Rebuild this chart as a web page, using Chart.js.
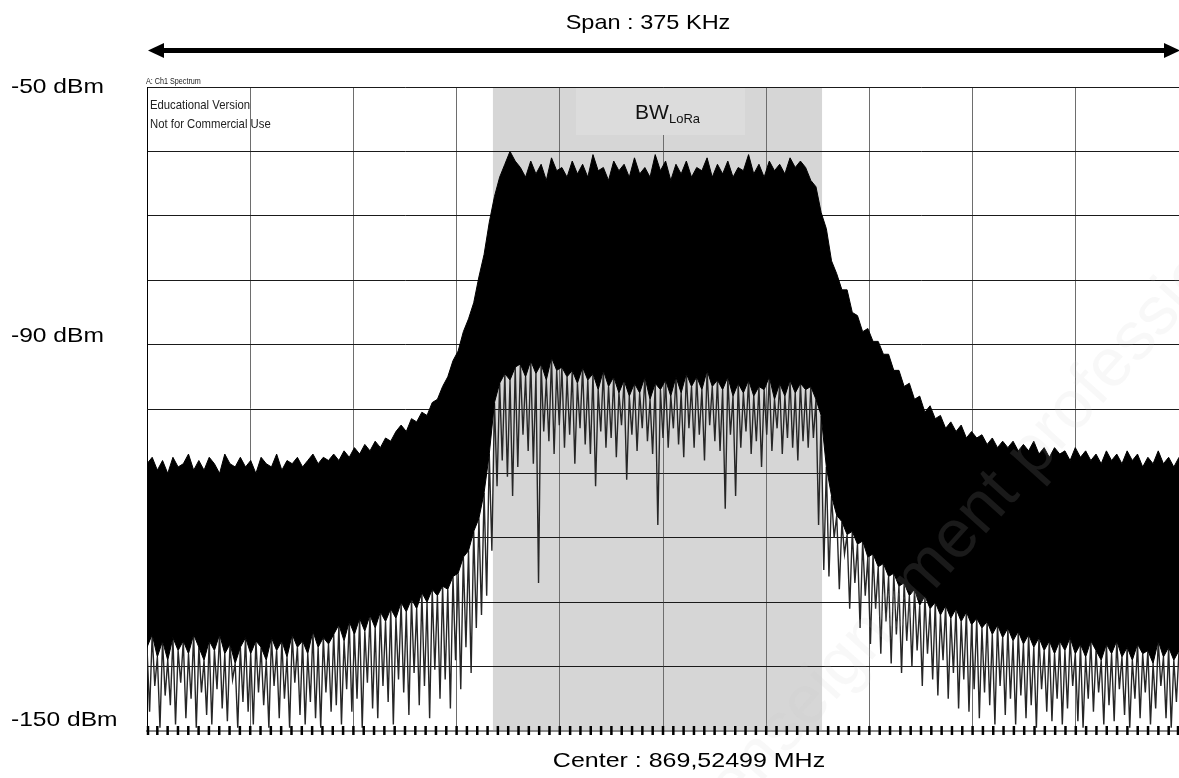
<!DOCTYPE html>
<html><head><meta charset="utf-8">
<script src="https://cdn.jsdelivr.net/npm/chart.js@4.4.1/dist/chart.umd.min.js"></script>
<style>html,body{margin:0;padding:0;background:#fff;overflow:hidden}canvas{display:block}</style>
</head><body>
<canvas id="c" width="1179" height="778"></canvas>
<script>
// ---- data (dBm, 200 bins across the span) ----
const peakDbm = [
 -108.5,-107.5,-109.5,-108,-110,-107.5,-109,-108.5,-107,-109.5,
 -108,-109.5,-107.5,-108.5,-110,-107,-108.5,-109,-107.5,-109,
 -108,-110,-107.5,-108.5,-109,-107,-109.5,-108,-108.5,-107.5,
 -109,-108,-107,-108.5,-107.5,-108,
 -107,-108,-106.5,-107.5,-106,-107,-105.5,-106.5,-105,-106,-104.5,-105,-103.5,
 -102.5,-103.5,-101.5,-102,-100.5,-101,-99,-98.5,
 -96.5,-95,-92.5,-91,-88,-86,-83.5,-79.5,-76,-71,
 -67,-64,-62,-60,-61.5,
 -62.5,-64,-61.5,-63.5,-62,-64.5,-61,-63,-62.5,-64,
 -61.5,-63.5,-62,-64,-60.5,-63,-62.5,-64.5,-61.5,-63,
 -62,-64,-61,-63.5,-62.5,-64,-60.5,-63,-61.5,-64.5,
 -62,-63.5,-61.5,-64,-62.5,-63,-61,-64,-62,-63.5,
 -61.5,-64,-62.5,-63,-60.5,-63.5,-62,-64,-61.5,-63,
 -62,-63.5,-61,-62.5,-61.5,
 -62.5,-64.5,-65.5,-69.5,-72,-77,-79,-81.5,-81.5,-85,
 -85.5,-88,-87.5,-89.5,-89.5,-91.5,-91.5,-94,-94,-96.5,
 -96,-98.5,-98,-100.5,-99.5,-101.5,-101,-103,-102,-103.5,
 -102.5,-104.5,-103.5,-104.5,-104,-105.5,-104.5,-106,-105,-106,
 -105,-106.5,-105.5,-106.5,-105,-107,-106,-107.5,-106,-107,
 -106.5,-108,-106,-107.5,-106.5,-108,-107,-108.5,-106.5,-108,
 -107,-108.5,-106.5,-108,-107,-109,-107.5,-108.5,-106.5,-108.5,-107.5,-109,-107.5
];
const floorDbm = [
 -137,-135,-138.5,-136,-139,-135.5,-137.5,-136,-138,-135,
 -137,-139,-136,-137.5,-135,-138,-136.5,-139.5,-137,-135.5,
 -138,-136,-137,-139,-135.5,-137.5,-136,-138.5,-135,-137,
 -136,-138,-134.5,-137,-135.5,-136.5,
 -135,-133.5,-136,-133,-135,-132.5,-134.5,-132,-134,-131.5,-133,-131,-132.5,
 -130,-131.5,-129.5,-131,-128.5,-130,-128,-129,
 -127.5,-128,-126,-125.5,-123,-122,-119,-117,-113,-107,
 -99,-96,-94.5,-95.5,-93.5,
 -93,-95,-92.5,-94.5,-93,-95.5,-92,-94,-93.5,-95,
 -94,-96,-93.5,-95.5,-94.5,-97,-94,-96.5,-95,-97.5,
 -95.5,-98,-96,-97.5,-95,-98.5,-96,-97,-95.5,-98,
 -95,-97.5,-94.5,-96.5,-95,-97,-94,-96.5,-95.5,-97,
 -95,-98,-96,-97.5,-95.5,-98,-96.5,-97,-95,-98.5,
 -96,-98,-95.5,-97.5,-96,
 -97,-96.5,-98.5,-101,-109,-113.5,-116.5,-117.5,-119.5,-119,
 -121,-120.5,-123,-122.5,-124.5,-124,-126,-125.5,-127.5,-127,
 -129,-128,-130.5,-129,-131,-130,-132,-130.5,-132.5,-131,
 -133,-131.5,-133.5,-132.5,-134,-133,-135,-133.5,-135.5,-134,
 -136,-134.5,-136.5,-135,-137,-135.5,-137.5,-136,-138,-136,
 -137.5,-135.5,-138,-136.5,-138.5,-136,-137.5,-139,-136.5,-138,
 -136,-138.5,-137,-139,-136.5,-138,-137.5,-139.5,-136,-138.5,-137,-139,-137.5
];
const minDbm = [
 -147,-143,-149.5,-144.5,-146,-149,-142.5,-148,-145,-149.5,
 -144,-147.5,-149,-143.5,-146.5,-148.5,-142,-149.5,-145.5,-147,
 -149,-144,-146,-149.5,-143,-148,-145,-149.5,-142.5,-147.5,
 -149,-145.5,-148,-149.5,-144,-147,
 -146,-149,-143.5,-147,-145,-149.5,-142.5,-146.5,-148,-143,-145.5,-149,-142,
 -144,-147.5,-141,-146,-143,-148,-140.5,-145,
 -142,-146.5,-139,-143.5,-137,-141,-134,-132,-129,-122,
 -112,-108,-110.5,-113.5,-109,
 -104,-106.5,-108.5,-127,-103.5,-105,-107,-102.5,-106,-104,
 -108.5,-103,-105.5,-107,-112,-103.5,-106,-104.5,-107.5,-102.5,
 -111,-104,-106.5,-103,-105,-107,-118,-104.5,-106,-103,
 -105.5,-107.5,-103,-106,-104,-108,-102.5,-105,-106.5,-115.5,
 -104,-113.5,-106,-103.5,-107,-105,-109,-104,-106.5,-103,
 -107,-104.5,-106,-108,-105,
 -106,-104.5,-118,-125,-126,-120,-128,-122.5,-131,-127,
 -134,-129,-136.5,-131,-138,-133,-139.5,-135,-141,-136,
 -140,-137.5,-143,-138,-142,-144.5,-139,-145,-141,-146.5,
 -142,-147,-143.5,-148,-144,-146,-149,-143,-147.5,-145,
 -149,-144.5,-148,-146,-149.5,-143.5,-147,-148.5,-145,-149,
 -146.5,-143,-148.5,-149.5,-145,-147,-144,-149,-146,-148.5,
 -143.5,-147.5,-149.5,-145,-148,-144,-149,-146.5,-143,-148,-149.5,-145.5,-147
];
const yLabelValues = [-50, -90, -150];
const yLabelTexts = ['-50 dBm', '-90 dBm', '-150 dBm'];
const spanText = 'Span : 375 KHz';
const centerText = 'Center : 869,52499 MHz';
const watermarkText = 'enseignement professionnel';
const SPAN_KHZ = 375;
const DIV_KHZ = 37.5;
const MINOR_KHZ = 3.75;
const BW_START_KHZ = -61.8, BW_END_KHZ = 57.8;
const BW_BOX_KHZ = [-31.6, 29.8];

// frequency offset (kHz from centre) of each bin
const binKHz = SPAN_KHZ / (peakDbm.length - 1);
const freqKHz = peakDbm.map((_, i) => -SPAN_KHZ / 2 + i * binKHz);

const FONT = '"Liberation Sans", Arial, sans-serif';
function txt(ctx, s, x, y, size, sx, align, color, base) {
  ctx.save();
  ctx.font = size + 'px ' + FONT;
  ctx.fillStyle = color || '#000';
  ctx.textBaseline = base || 'middle';
  ctx.textAlign = align || 'left';
  ctx.translate(x, y);
  ctx.scale(sx, 1);
  ctx.fillText(s, 0, 0);
  ctx.restore();
}

const decor = {
  id: 'decor',
  beforeDraw(chart) {
    const { ctx, chartArea: a, scales: { x } } = chart;
    ctx.save();
    ctx.fillStyle = '#fff';
    ctx.fillRect(0, 0, chart.width, chart.height);
    ctx.fillStyle = '#d6d6d6';
    const x0 = x.getPixelForValue(BW_START_KHZ), x1 = x.getPixelForValue(BW_END_KHZ);
    ctx.fillRect(x0, a.top, x1 - x0, a.bottom - a.top);
    ctx.restore();
  },
  beforeDatasetsDraw(chart) {
    const { ctx, chartArea: a, scales: { x } } = chart;
    const b0 = x.getPixelForValue(BW_BOX_KHZ[0]), b1 = x.getPixelForValue(BW_BOX_KHZ[1]);
    ctx.save();
    ctx.fillStyle = '#dcdcdc';
    ctx.fillRect(b0, a.top + 1, b1 - b0, 47);
    ctx.restore();
    txt(ctx, 'BW', 635, 119, 21, 1, 'left', '#111', 'alphabetic');
    txt(ctx, 'LoRa', 669, 123, 13, 1, 'left', '#111', 'alphabetic');
  },
  afterDraw(chart) {
    const { ctx, chartArea: a, scales: { x, y } } = chart;
    // faint diagonal watermark
    ctx.save();
    ctx.translate(735, 812);
    ctx.rotate(-48 * Math.PI / 180);
    ctx.font = '68px ' + FONT;
    ctx.fillStyle = 'rgba(200,200,200,0.13)';
    ctx.textBaseline = 'alphabetic';
    ctx.fillText(watermarkText, 0, 0);
    ctx.restore();
    // minor ticks on the bottom axis
    ctx.save();
    ctx.strokeStyle = '#000';
    ctx.lineWidth = 2.5;
    for (let v = -SPAN_KHZ / 2; v <= SPAN_KHZ / 2 + 1e-6; v += MINOR_KHZ) {
      const px = Math.min(Math.max(x.getPixelForValue(v), a.left + 1), a.right - 1);
      ctx.beginPath();
      ctx.moveTo(px, a.bottom - 5);
      ctx.lineTo(px, a.bottom + 4);
      ctx.stroke();
    }
    ctx.restore();
    // y labels
    const yOff = [0, -8, -11];
    yLabelValues.forEach((v, i) => {
      txt(ctx, yLabelTexts[i], 11, y.getPixelForValue(v) + yOff[i], 21, 1.17, 'left', '#000');
    });
    // span arrow
    ctx.save();
    ctx.fillStyle = '#000';
    ctx.fillRect(160, 48, 1008, 5);
    ctx.beginPath(); ctx.moveTo(148, 50.5); ctx.lineTo(164, 43); ctx.lineTo(164, 58); ctx.closePath(); ctx.fill();
    ctx.beginPath(); ctx.moveTo(1180, 50.5); ctx.lineTo(1164, 43); ctx.lineTo(1164, 58); ctx.closePath(); ctx.fill();
    ctx.restore();
    txt(ctx, spanText, 648, 23, 21, 1.12, 'center', '#000');
    txt(ctx, centerText, 689, 761, 21, 1.19, 'center', '#000');
    // instrument annotations
    txt(ctx, 'A: Ch1 Spectrum', 146, 84, 9, 0.8, 'left', '#222', 'alphabetic');
    txt(ctx, 'Educational Version', 150, 109, 13, 0.87, 'left', '#222', 'alphabetic');
    txt(ctx, 'Not for Commercial Use', 150, 128, 13, 0.87, 'left', '#222', 'alphabetic');
  }
};

const pts = arr => arr.map((v, i) => ({ x: freqKHz[i], y: v }));
// spike trace: runs from each bin's floor down to that bin's deepest sample
const spikePts = floorDbm.flatMap((f, i) => [
  { x: freqKHz[i], y: f },
  { x: freqKHz[i] + binKHz / 2, y: minDbm[i] }
]);

new Chart(document.getElementById('c'), {
  type: 'line',
  data: {
    datasets: [
      {
        label: 'peak', data: pts(peakDbm), order: 1,
        borderColor: '#000', borderWidth: 1, backgroundColor: '#000',
        pointRadius: 0, tension: 0, fill: '+1'
      },
      {
        label: 'floor', data: pts(floorDbm), order: 2,
        borderColor: '#000', borderWidth: 1, pointRadius: 0, tension: 0, fill: false
      },
      {
        label: 'spikes', data: spikePts, order: 3,
        borderColor: '#262626', borderWidth: 1.4, pointRadius: 0, tension: 0, fill: false
      }
    ]
  },
  options: {
    responsive: false,
    animation: false,
    devicePixelRatio: 1,
    events: [],
    layout: { padding: { left: 147, top: 87, right: 0, bottom: 47 } },
    plugins: { legend: { display: false }, tooltip: { enabled: false } },
    scales: {
      x: {
        type: 'linear', min: -SPAN_KHZ / 2, max: SPAN_KHZ / 2, offset: false,
        ticks: { display: false, stepSize: DIV_KHZ },
        afterBuildTicks: s => { s.ticks = []; for (let v = -SPAN_KHZ / 2; v <= SPAN_KHZ / 2 + 1e-6; v += DIV_KHZ) s.ticks.push({ value: v }); },
        grid: { color: '#6e6e6e', lineWidth: 1, drawTicks: false, offset: false },
        border: { color: '#8a8a8a', width: 2 },
        afterFit: s => { s.height = 0; }
      },
      y: {
        type: 'linear', min: -150, max: -50,
        ticks: { display: false, stepSize: 10 },
        grid: { color: '#1a1a1a', lineWidth: 1, drawTicks: false },
        border: { color: '#000', width: 1 },
        afterFit: s => { s.width = 0; }
      }
    }
  },
  plugins: [decor]
});
</script>
</body></html>
